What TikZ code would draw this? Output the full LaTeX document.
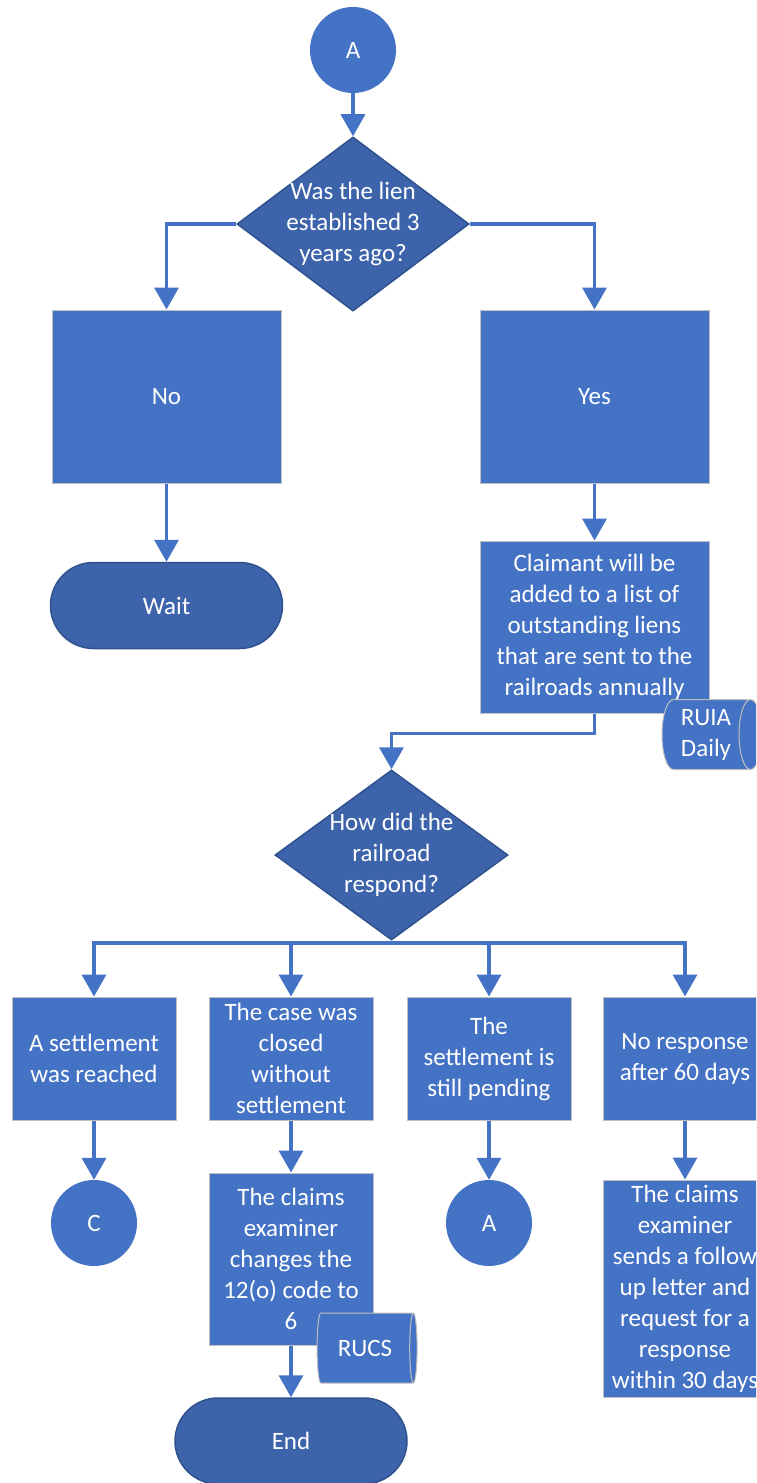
\documentclass[tikz,border=0pt]{standalone}
\usepackage{fontspec}
\setmainfont{Carlito}
\usepackage{tikz}
\usetikzlibrary{arrows.meta, shapes.geometric, calc}

\definecolor{boxblue}{HTML}{4472C4}
\definecolor{dkblue}{HTML}{3D63AB}
\definecolor{dkedge}{HTML}{2F528F}
\definecolor{boxedge}{HTML}{BFBFBF}

\tikzset{
    proc/.style={rectangle, fill=boxblue, draw=boxedge, line width=1pt, text=white, align=center, inner sep=0pt},
    decision/.style={diamond, fill=dkblue, draw=dkedge, line width=1.5pt, inner sep=0pt},
    term/.style={rectangle, rounded corners=43pt, fill=dkblue, draw=dkedge, line width=1.5pt, text=white, minimum width=232pt, minimum height=86pt},
    conn/.style={circle, fill=boxblue, text=white, minimum size=86pt, inner sep=0pt},
    store/.style={cylinder, shape aspect=0.45, fill=boxblue, draw=boxedge, line width=1pt, text=white, align=center, minimum width=70pt, minimum height=100pt, inner sep=0pt},
    flow/.style={draw=boxblue, line width=3.5pt, -{Triangle[width=24pt,length=22pt]}}
}

\begin{document}
\begin{tikzpicture}[x=1pt, y=-1pt, font=\fontsize{25}{31}\selectfont]
        \useasboundingbox (0,0) rectangle (756,1483);
        \clip (0,0) rectangle (756,1483);

        \node[conn] (topA) at (353,50) {A};
        \node[decision, minimum width=232pt, minimum height=174pt,
            label={[text=white, align=center]center:Was the lien\\established 3\\years ago?}] (lien) at (353,224) {};
        \node[proc, minimum width=229pt, minimum height=173pt] (no) at (166.5,396.5) {No};
        \node[proc, minimum width=229pt, minimum height=173pt] (yes) at (594.5,396.5) {Yes};
        \node[term] (wait) at (166.5,605.5) {Wait};
        \node[proc, minimum width=229pt, minimum height=172pt] (claimant) at (594.5,627)
            {Claimant will be\\added to a list of\\outstanding liens\\that are sent to the\\railroads annually};
        \node[store] (ruia) at (706,734.5) {RUIA\\Daily};

        \node[decision, minimum width=233pt, minimum height=170pt,
            label={[text=white, align=center]center:How did the\\railroad\\respond?}] (respond) at (391.5,855) {};
        \coordinate (split) at (391.5,943);

        \node[proc, minimum width=164pt, minimum height=123pt] (reached) at (94,1058.5) {A settlement\\was reached};
        \node[proc, minimum width=164pt, minimum height=123pt] (closed) at (291,1058.5) {The case was\\closed\\without\\settlement};
        \node[proc, minimum width=164pt, minimum height=123pt] (pending) at (489,1058.5) {The\\settlement is\\still pending};
        \node[proc, minimum width=164pt, minimum height=123pt] (noresp) at (685,1058.5) {No response\\after 60 days};

        \node[conn] (toC) at (94,1223) {C};
        \node[proc, minimum width=164pt, minimum height=172pt] (change) at (291,1259)
            {The claims\\examiner\\changes the\\12(o) code to\\6};
        \node[store] (rucs) at (365,1348) {RUCS};
        \node[conn] (backA) at (489,1223) {A};
        \node[term] (end) at (291,1441) {End};
        \node[proc, minimum width=164pt, minimum height=217pt] (follow) at (685,1288.5)
            {The claims\\examiner\\sends a follow\\up letter and\\request for a\\response\\within 30 days};

        \draw[flow] (topA) -- (lien);
        \draw[flow] (lien.west) -| (no.north);
        \draw[flow] (lien.east) -| (yes.north);
        \draw[flow] (no) -- (wait);
        \draw[flow] (yes) -- (claimant);
        \draw[flow] (claimant.south) -- ++(0,20) -| (respond.north);
        \draw[draw=boxblue, line width=3.5pt] (respond.south) -- (split);
        \foreach \b in {reached, closed, pending, noresp}
            \draw[flow] (split) -| (\b.north);
        \draw[flow] (reached) -- (toC);
        \draw[flow] (closed) -- (change);
        \draw[flow] (pending) -- (backA);
        \draw[flow] (noresp) -- (follow);
        \draw[flow] (change) -- (end);
    \end{tikzpicture}
\end{document}
